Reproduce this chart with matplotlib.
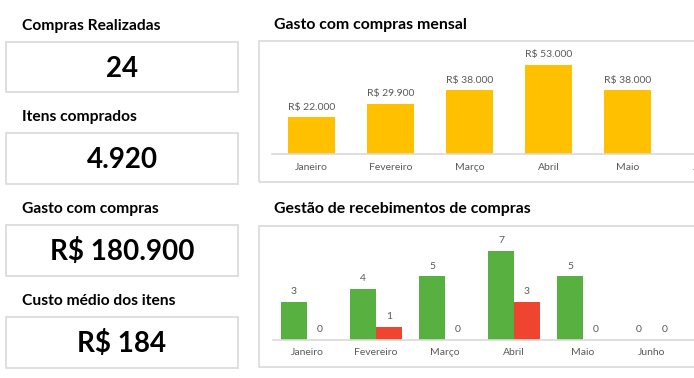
import matplotlib
matplotlib.use("Agg")
import matplotlib.pyplot as plt
from matplotlib.patches import Rectangle
import numpy as np

plt.rcParams['font.family'] = ['Lato', 'DejaVu Sans']

# ---- data ----
kpi_titles = ["Compras Realizadas", "Itens comprados", "Gasto com compras", "Custo médio dos itens"]
kpi_values = ["24", "4.920", "R$ 180.900", "R$ 184"]

months = ["Janeiro", "Fevereiro", "Março", "Abril", "Maio", "Junho"]
gasto_mensal = [22000, 29900, 38000, 53000, 38000, 0]
recebidos = [3, 4, 5, 7, 5, 0]
pendentes = [0, 1, 0, 3, 0, 0]

chart_titles = ["Gasto com compras mensal", "Gestão de recebimentos de compras"]

YELLOW = "#FFC000"
GREEN = "#57B03F"
RED = "#EE4430"
BORDER = "#D9D9D9"
GRAY = "#595959"

W, H = 694, 378
fig = plt.figure(figsize=(W / 100, H / 100), dpi=100)
fig.patch.set_facecolor("white")


def fx(x):
    return x / W


def fy(y):
    return 1 - y / H


def box(x0, y0, x1, y1):
    fig.patches.append(Rectangle((fx(x0), fy(y1)), fx(x1) - fx(x0), fy(y0) - fy(y1),
                                 transform=fig.transFigure, fill=False,
                                 edgecolor=BORDER, lw=1.2))


def money(v):
    return "R$ " + f"{v:,.0f}".replace(",", ".")


# ---- KPI cards ----
box_tops = [41.7, 133, 225, 317]
box_h = 50.5
for t, v, top in zip(kpi_titles, kpi_values, box_tops):
    box(6.3, top, 238.3, top + box_h)
    fig.text(fx(21.7), fy(top - 12), t, fontsize=11.25, fontweight="bold",
             color="black", ha="left", va="baseline")
    fig.text(fx(122), fy(top + box_h / 2 + 10), v, fontsize=20, fontweight="bold",
             color="black", ha="center", va="baseline")

# ---- panels ----
box(259.3, 40.7, 720, 182.3)
box(259.3, 225.7, 720, 367.3)
fig.text(fx(274), fy(29), chart_titles[0], fontsize=11.45, fontweight="bold",
         ha="left", va="baseline")
fig.text(fx(274), fy(213), chart_titles[1], fontsize=11.45, fontweight="bold",
         ha="left", va="baseline")

# ---- top chart ----
n = len(months)
x = np.arange(n)
step1 = 79
left1 = 272
ax1 = fig.add_axes([fx(left1), fy(154.3), (n * step1) / W, (154.3 - 45) / H])
ax1.bar(x, gasto_mensal, width=0.6, color=YELLOW)
ax1.set_xlim(-0.5, n - 0.5)
ax1.set_ylim(0, max(gasto_mensal) * 1.224)
for xi, v in zip(x, gasto_mensal):
    if v:
        ax1.annotate(money(v), (xi, v), xytext=(0, 4), textcoords="offset points",
                     ha="center", va="bottom", fontsize=7.5, color=GRAY)
ax1.set_xticks(x)
ax1.set_xticklabels(months, fontsize=7.5, color=GRAY)
ax1.tick_params(axis="x", length=0, pad=6)
ax1.set_yticks([])
for s in ["top", "left", "right"]:
    ax1.spines[s].set_visible(False)
ax1.spines["bottom"].set_color(BORDER)
ax1.spines["bottom"].set_linewidth(1.2)
ax1.patch.set_alpha(0)

# ---- bottom chart ----
step2 = 69
left2 = 272.5
right2 = 700
bw = 26 / step2
ax2 = fig.add_axes([fx(left2), fy(339.7), (right2 - left2) / W, (339.7 - 235) / H])
ax2.bar(x - bw / 2, recebidos, width=bw, color=GREEN)
ax2.bar(x + bw / 2, pendentes, width=bw, color=RED)
ax2.set_xlim(-0.5, -0.5 + (right2 - left2) / step2)
ax2.set_ylim(0, 8.25)
for xi, v in zip(x, recebidos):
    ax2.annotate(str(v), (xi - bw / 2, v), xytext=(0, 4), textcoords="offset points",
                 ha="center", va="bottom", fontsize=7.5, color=GRAY)
for xi, v in zip(x, pendentes):
    ax2.annotate(str(v), (xi + bw / 2, v), xytext=(0, 4), textcoords="offset points",
                 ha="center", va="bottom", fontsize=7.5, color=GRAY)
ax2.set_xticks(x)
ax2.set_xticklabels(months, fontsize=7.5, color=GRAY)
ax2.tick_params(axis="x", length=0, pad=6)
ax2.set_yticks([])
for s in ["top", "left", "right"]:
    ax2.spines[s].set_visible(False)
ax2.spines["bottom"].set_color(BORDER)
ax2.spines["bottom"].set_linewidth(1.2)
ax2.patch.set_alpha(0)

fig.savefig("out.png", dpi=100)
